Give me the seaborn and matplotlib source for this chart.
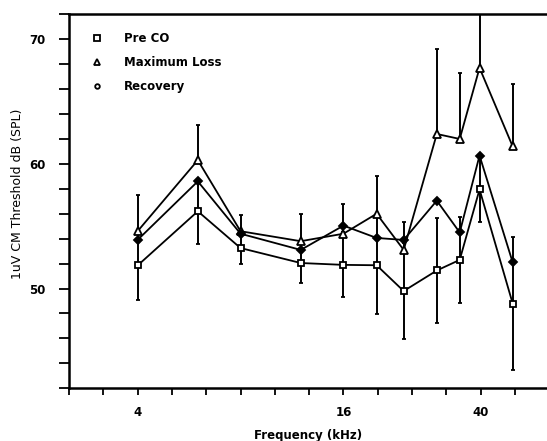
import numpy as np
import pandas as pd
import matplotlib
matplotlib.use("Agg")
import matplotlib.pyplot as plt
from matplotlib.lines import Line2D
from matplotlib.ticker import FixedLocator, NullFormatter
import seaborn as sns

# Test frequencies (kHz)
freq_khz = [4, 6, 8, 12, 16, 20, 24, 30, 35, 40, 50]

# Mean 1 uV cochlear-microphonic thresholds (dB SPL)
pre_co = [51.85, 56.2, 53.25, 52.05, 51.9, 51.87, 49.8, 51.45, 52.3, 57.95, 48.8]
max_loss = [54.6, 60.3, 54.6, 53.8, 54.4, 56.0, 53.1, 62.4, 62.0, 67.7, 61.4]
recovery = [53.9, 58.6, 54.4, 53.1, 55.05, 54.06, 53.9, 57.05, 54.5, 60.67, 52.1]

# Standard deviations
pre_co_sd = [2.75, 2.6, 1.3, 1.6, 2.6, 3.95, 3.85, 4.25, 3.45, 2.65, 5.3]
max_loss_sd = [2.9, 2.8, 1.3, 2.2, 2.4, 3.0, 2.2, 6.8, 5.3, 4.8, 5.0]

series_names = ["Pre CO", "Maximum Loss", "Recovery"]
x_tick_labels = ["4", "16", "40"]
y_tick_values = [50, 60, 70]

sns.set_style("ticks")
plt.rcParams["font.family"] = ["DejaVu Sans"]
plt.rcParams["text.color"] = "black"
plt.rcParams["axes.labelcolor"] = "black"
plt.rcParams["xtick.color"] = "black"
plt.rcParams["ytick.color"] = "black"

fig = plt.figure(figsize=(5.47, 4.41), dpi=100)
ax = fig.add_axes([0.1261, 0.1195, 0.8739, 0.8481])

df = pd.DataFrame({
    "freq": freq_khz * 3,
    "threshold": pre_co + max_loss + recovery,
    "condition": np.repeat(series_names, len(freq_khz)),
})

# Error bars: symmetric for the pre-exposure data, upper only for maximum loss
ax.errorbar(freq_khz, pre_co, yerr=pre_co_sd, fmt="none", ecolor="black",
            elinewidth=1.4, capsize=1.6, capthick=1.3, zorder=2)
ax.errorbar(freq_khz, max_loss, yerr=[np.zeros(len(freq_khz)), max_loss_sd],
            fmt="none", ecolor="black", elinewidth=1.4, capsize=1.6,
            capthick=1.3, zorder=2)

styles = {
    "Pre CO": dict(marker="s", markersize=4.8, markerfacecolor="white"),
    "Maximum Loss": dict(marker="^", markersize=5.2, markerfacecolor="white"),
    "Recovery": dict(marker="D", markersize=3.8, markerfacecolor="black"),
}
for name in series_names:
    sub = df[df["condition"] == name]
    sns.lineplot(data=sub, x="freq", y="threshold", color="black", lw=1.3,
                 markeredgecolor="black", markeredgewidth=1.3, ax=ax,
                 legend=False, zorder=3, **styles[name])

ax.set_xscale("log", base=2)
ax.set_xlim(4 * 2 ** (-2 / 3), 63)
ax.set_ylim(42, 72)

third_octaves = [4 * 2 ** (k / 3) for k in range(-2, 12)]
major_x = [third_octaves[2], third_octaves[8], third_octaves[12]]
ax.xaxis.set_major_locator(FixedLocator(major_x))
ax.set_xticklabels(x_tick_labels)
ax.xaxis.set_minor_locator(FixedLocator([t for t in third_octaves if t not in major_x]))
ax.xaxis.set_minor_formatter(NullFormatter())

ax.yaxis.set_major_locator(FixedLocator(y_tick_values))
ax.yaxis.set_minor_locator(FixedLocator([v for v in range(42, 73, 2) if v not in y_tick_values]))
ax.yaxis.set_minor_formatter(NullFormatter())

for axis in (ax.xaxis, ax.yaxis):
    axis.set_tick_params(which="both", direction="out", color="black", width=1.3)
ax.tick_params(axis="x", which="both", length=5, pad=8)
ax.tick_params(axis="y", which="both", length=7, pad=10)
for lab in ax.get_xticklabels() + ax.get_yticklabels():
    lab.set_fontweight("bold")
    lab.set_fontsize(8.5)
    lab.set_color("black")

for side in ("left", "bottom", "top"):
    ax.spines[side].set_linewidth(1.8)
    ax.spines[side].set_color("black")
ax.spines["right"].set_visible(False)

ax.set_xlabel("Frequency (kHz)", fontsize=8.5, fontweight="bold", labelpad=7,
              color="black")
ax.set_ylabel("1uV CM Threshold dB (SPL)", fontsize=9, color="black")
ax.yaxis.set_label_coords(-0.094, 0.52)

handles = [
    Line2D([], [], ls="none", marker="s", markersize=4.5, markerfacecolor="white",
           markeredgecolor="black", markeredgewidth=1.3),
    Line2D([], [], ls="none", marker="^", markersize=5, markerfacecolor="white",
           markeredgecolor="black", markeredgewidth=1.3),
    Line2D([], [], ls="none", marker="o", markersize=3.3, markerfacecolor="white",
           markeredgecolor="black", markeredgewidth=1.3),
]
leg = ax.legend(handles, series_names, loc="upper left",
                bbox_to_anchor=(0.0456, 0.953), frameon=False, borderpad=0,
                borderaxespad=0, handlelength=1.0, handletextpad=1.8,
                labelspacing=0.95, prop={"weight": "bold", "size": 8.5})

fig.savefig("out.png", dpi=100)
